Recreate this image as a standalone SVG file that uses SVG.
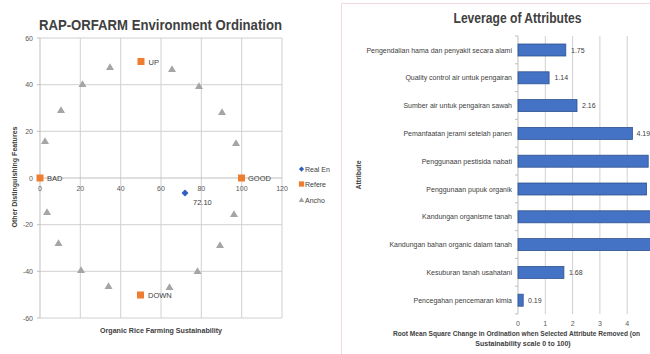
<svg xmlns="http://www.w3.org/2000/svg" xmlns:xlink="http://www.w3.org/1999/xlink" width="650" height="354" viewBox="0 0 650 354">
<style>
text{font-family:"Liberation Sans",Arial,sans-serif;}
.title{font-size:14px;font-weight:bold;fill:#404040;}
.grid{stroke:#d0d0d0;stroke-width:1;fill:none;}
.axis{stroke:#bfbfbf;stroke-width:1;fill:none;}
.tick{font-size:7px;fill:#595959;}
.lbl{font-size:7.5px;fill:#404040;}
.axt{font-size:7px;font-weight:bold;fill:#404040;}
.cat{font-size:7px;fill:#404040;text-anchor:end;}
.val{font-size:7px;fill:#404040;}
.bar{fill:#4472c4;stroke:#2f528f;stroke-width:0.8;}
.tri{fill:#a5a5a5;}
.sq{fill:#ed7d31;}
.dia{fill:#2e5fc0;}
</style>
<defs>
<path id="tri" d="M0,-3.8 L4,3 L-4,3 Z"/>
<rect id="sq" x="-3.5" y="-3.5" width="7" height="7"/>
<path id="dia" d="M0,-3.5 L3.5,0 L0,3.5 L-3.5,0 Z"/>
<clipPath id="legclip"><rect x="290" y="150" width="43" height="60"/></clipPath>
<clipPath id="rclip"><rect x="342" y="0" width="308" height="354"/></clipPath>
</defs>
<rect width="650" height="354" fill="#ffffff"/>

<!-- Left chart -->
<g id="left-chart">
<text class="title" x="160.5" y="30" text-anchor="middle" textLength="243" lengthAdjust="spacingAndGlyphs">RAP-ORFARM Environment Ordination</text>
<g id="left-grid">
<path class="grid" d="M80.3,38V318M120.7,38V318M161,38V318M201.3,38V318M241.7,38V318M282,38V318"/>
<path class="grid" d="M40,38H282M40,84.7H282M40,131.3H282M40,224.7H282M40,271.3H282M40,318H282"/>
<path class="axis" d="M40,38V318M40,178H282"/>
<path class="axis" d="M37,38H40M37,84.7H40M37,131.3H40M37,178H40M37,224.7H40M37,271.3H40M37,318H40"/>
</g>
<g id="left-yticks" class="tick" text-anchor="end">
<text x="33" y="40.5">60</text>
<text x="33" y="87.2">40</text>
<text x="33" y="133.8">20</text>
<text x="33" y="180.5">0</text>
<text x="33" y="227.2">-20</text>
<text x="33" y="273.8">-40</text>
<text x="33" y="320.5">-60</text>
</g>
<g id="left-xticks" class="tick" text-anchor="middle">
<text x="40" y="191">0</text>
<text x="80.3" y="191">20</text>
<text x="120.7" y="191">40</text>
<text x="161" y="191">60</text>
<text x="201.3" y="191">80</text>
<text x="241.7" y="191">100</text>
<text x="282" y="191">120</text>
</g>
<text class="axt" transform="translate(16.5,177) rotate(-90)" text-anchor="middle" textLength="101" lengthAdjust="spacingAndGlyphs">Other Distinguishing Features</text>
<text class="axt" x="161" y="333" text-anchor="middle" textLength="122" lengthAdjust="spacingAndGlyphs">Organic Rice Farming Sustainability</text>

<g id="anchors" class="tri">
<use href="#tri" x="110" y="67"/>
<use href="#tri" x="82.5" y="84"/>
<use href="#tri" x="172" y="69"/>
<use href="#tri" x="199" y="86"/>
<use href="#tri" x="61" y="110"/>
<use href="#tri" x="222" y="112"/>
<use href="#tri" x="45" y="141"/>
<use href="#tri" x="236" y="143"/>
<use href="#tri" x="47" y="212"/>
<use href="#tri" x="234" y="214"/>
<use href="#tri" x="58.5" y="243"/>
<use href="#tri" x="220" y="245"/>
<use href="#tri" x="81" y="270"/>
<use href="#tri" x="197.5" y="271"/>
<use href="#tri" x="108.5" y="286"/>
<use href="#tri" x="169.5" y="287"/>
</g>
<g id="ref-up"><use class="sq" href="#sq" x="141" y="61.5"/><text class="lbl" x="148.5" y="64.5">UP</text></g>
<g id="ref-down"><use class="sq" href="#sq" x="140.5" y="295"/><text class="lbl" x="148" y="298">DOWN</text></g>
<g id="ref-bad"><use class="sq" href="#sq" x="40" y="178"/><text class="lbl" x="47" y="181">BAD</text></g>
<g id="ref-good"><use class="sq" href="#sq" x="241.5" y="178"/><text class="lbl" x="248" y="181">GOOD</text></g>
<g id="real"><use class="dia" href="#dia" x="185" y="193"/><text class="lbl" x="193" y="205">72.10</text></g>

<g id="legend" clip-path="url(#legclip)">
<use class="dia" href="#dia" x="301.5" y="169" transform="translate(301.5,169) scale(0.75) translate(-301.5,-169)"/>
<text class="val" x="305" y="171.5">Real En</text>
<use class="sq" href="#sq" x="301.5" y="184" transform="translate(301.5,184) scale(0.75) translate(-301.5,-184)"/>
<text class="val" x="305" y="186.5">Refere</text>
<use class="tri" href="#tri" x="301.5" y="200" transform="translate(301.5,200) scale(0.7) translate(-301.5,-200)"/>
<text class="val" x="305" y="202.5">Ancho</text>
</g>
</g>

<!-- Right chart -->
<path d="M341.5,354V3.5H650" fill="none" stroke="#f2d9dd" stroke-width="1"/>
<text class="title" x="517.5" y="23" text-anchor="middle" textLength="128" lengthAdjust="spacingAndGlyphs">Leverage of Attributes</text>
<text class="axt" transform="translate(360.5,175) rotate(-90)" text-anchor="middle">Attribute</text>
<text class="axt" x="393" y="336" style="font-size:6.6px">Root Mean Square Change in Ordination when Selected Attribute Removed (on</text>
<text class="axt" x="523" y="346" text-anchor="middle">Sustainability scale 0 to 100)</text>
<g id="right-chart" clip-path="url(#rclip)">
<g id="right-grid">
<path class="grid" d="M545.3,36V314M572.6,36V314M599.9,36V314M627.2,36V314"/>
<path class="axis" d="M518,36V314"/>
<path class="axis" d="M515,36H518M515,63.8H518M515,91.6H518M515,119.4H518M515,147.2H518M515,175H518M515,202.8H518M515,230.6H518M515,258.4H518M515,286.2H518M515,314H518"/>
</g>
<g id="right-xticks" class="tick" text-anchor="middle">
<text x="518" y="326">0</text>
<text x="545.3" y="326">1</text>
<text x="572.6" y="326">2</text>
<text x="599.9" y="326">3</text>
<text x="627.2" y="326">4</text>
</g>

<g id="bar1"><text class="cat" x="512" y="52.5">Pengendalian hama dan penyakit secara alami</text><rect class="bar" x="518" y="44" width="47.8" height="12"/><text class="val" x="571" y="52.5">1.75</text></g>
<g id="bar2"><text class="cat" x="512" y="80.3">Quality control air untuk pengairan</text><rect class="bar" x="518" y="71.8" width="31.1" height="12"/><text class="val" x="554.5" y="80.3">1.14</text></g>
<g id="bar3"><text class="cat" x="512" y="108.1">Sumber air untuk pengairan sawah</text><rect class="bar" x="518" y="99.6" width="59" height="12"/><text class="val" x="582" y="108.1">2.16</text></g>
<g id="bar4"><text class="cat" x="512" y="135.9">Pemanfaatan jerami setelah panen</text><rect class="bar" x="518" y="127.4" width="114.4" height="12"/><text class="val" x="636.5" y="135.9">4.19</text></g>
<g id="bar5"><text class="cat" x="512" y="163.7">Penggunaan pestisida nabati</text><rect class="bar" x="518" y="155.2" width="130.2" height="12"/></g>
<g id="bar6"><text class="cat" x="512" y="191.5">Penggunaan pupuk organik</text><rect class="bar" x="518" y="183" width="128.6" height="12"/></g>
<g id="bar7"><text class="cat" x="512" y="219.3">Kandungan organisme tanah</text><rect class="bar" x="518" y="210.8" width="140" height="12"/></g>
<g id="bar8"><text class="cat" x="512" y="247.1">Kandungan bahan organic dalam tanah</text><rect class="bar" x="518" y="238.6" width="140" height="12"/></g>
<g id="bar9"><text class="cat" x="512" y="274.9">Kesuburan tanah usahatani</text><rect class="bar" x="518" y="266.4" width="45.9" height="12"/><text class="val" x="569" y="274.9">1.68</text></g>
<g id="bar10"><text class="cat" x="512" y="302.7">Pencegahan pencemaran kimia</text><rect class="bar" x="518" y="294.2" width="5.2" height="12"/><text class="val" x="528" y="302.7">0.19</text></g>
</g>
</svg>
